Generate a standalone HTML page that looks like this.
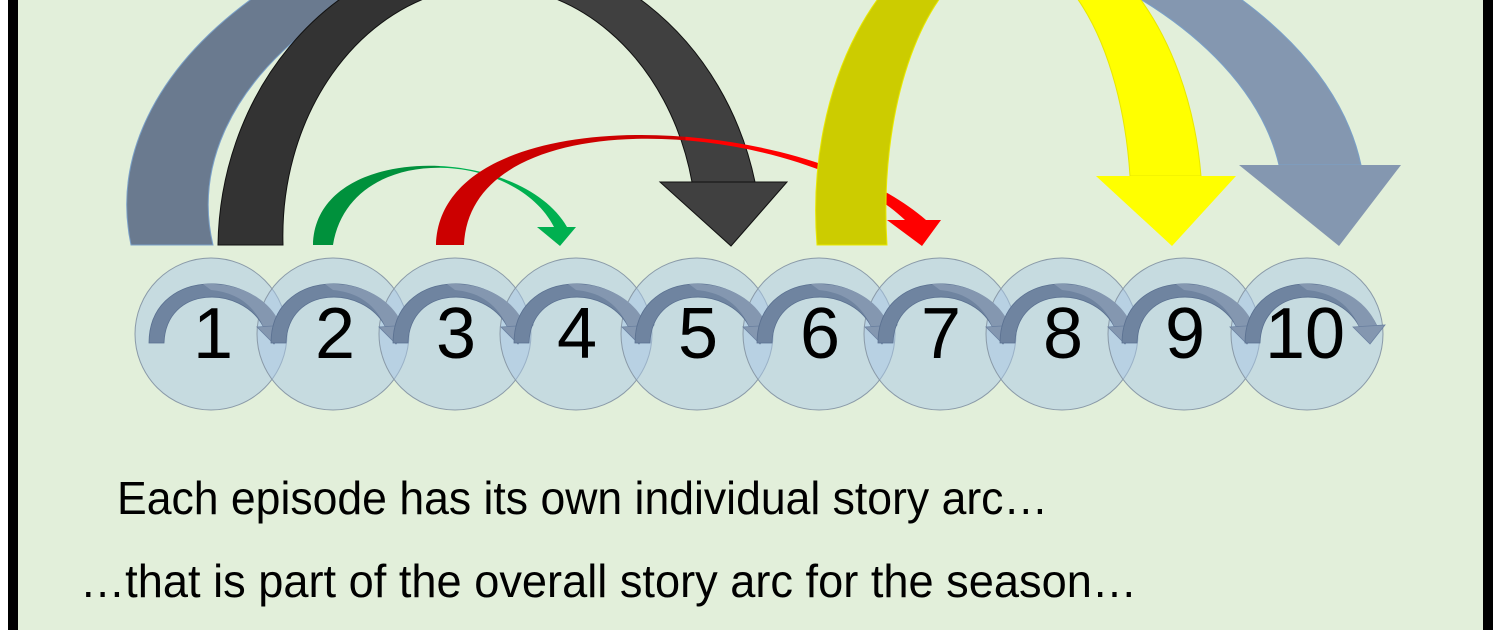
<!DOCTYPE html>
<html><head><meta charset="utf-8"><style>
html,body{margin:0;padding:0;background:#fff;}
svg{display:block;}
</style></head><body>
<svg width="1500" height="630" viewBox="0 0 1500 630" xmlns="http://www.w3.org/2000/svg">
<defs>
<linearGradient id="gSlate" gradientUnits="userSpaceOnUse" x1="0" y1="0" x2="1500" y2="0">
<stop offset="0.497" stop-color="#6a7a8f"/><stop offset="0.497" stop-color="#8497b0"/></linearGradient>
<linearGradient id="gDark" gradientUnits="userSpaceOnUse" x1="0" y1="0" x2="1500" y2="0">
<stop offset="0.327" stop-color="#333333"/><stop offset="0.327" stop-color="#404040"/></linearGradient>
<linearGradient id="gGreen" gradientUnits="userSpaceOnUse" x1="0" y1="0" x2="1500" y2="0">
<stop offset="0.293" stop-color="#00913c"/><stop offset="0.293" stop-color="#00b050"/></linearGradient>
<linearGradient id="gRed" gradientUnits="userSpaceOnUse" x1="0" y1="0" x2="1500" y2="0">
<stop offset="0.457" stop-color="#cc0000"/><stop offset="0.457" stop-color="#ff0000"/></linearGradient>
<linearGradient id="gYel" gradientUnits="userSpaceOnUse" x1="0" y1="0" x2="1500" y2="0">
<stop offset="0.673" stop-color="#cccc00"/><stop offset="0.673" stop-color="#ffff00"/></linearGradient>
<g id="small">
<path d="M-62,343 C-62,270 40,265 70,326 L52,326 C30,285 -45,285 -47,343 Z" fill="#6f84a0" stroke="#5a7090" stroke-width="0.8"/>
<path d="M-8,284 C30,282 60,300 70,326 L52,326 C40,300 20,292 0,290 Z" fill="#8497b0"/>
<polygon points="46,327 78,325 63,344" fill="#8497b0" stroke="#6a80a0" stroke-width="0.8"/>
</g>
</defs>
<rect x="0" y="0" width="1500" height="630" fill="#ffffff"/>
<rect x="18" y="0" width="1465" height="630" fill="#e2efda"/>
<rect x="8" y="0" width="10" height="630" fill="#000"/>
<rect x="1483" y="0" width="10" height="630" fill="#000"/>

<!-- slate big arc -->
<path d="M131,245 A615,340 0 0 1 1361,165 L1279,165 A533,300 0 0 0 213,245 Z" fill="url(#gSlate)" stroke="#7aa0c8" stroke-width="1"/>
<polygon points="1239,165 1401,165 1339,246" fill="#8497b0"/>
<!-- dark arc -->
<path d="M218,245 A272,300 0 0 1 755,182 L692,182 A207,250 0 0 0 283,245 Z" fill="url(#gDark)" stroke="#111" stroke-width="1"/>
<polygon points="660,182 787,182 731,246" fill="#404040" stroke="#111" stroke-width="1"/>
<!-- green -->
<path d="M313,245 C315,140 520,145 567,227 L554,227 C515,150 350,140 333,245 Z" fill="url(#gGreen)"/>
<polygon points="537,227 576,227 560,246" fill="#00b050"/>
<!-- red -->
<path d="M436,245 C440,95 800,110 926,220 L905,220 C800,120 470,95 464,245 Z" fill="url(#gRed)"/>
<polygon points="887,220 941,220 922,246" fill="#ff0000"/>
<!-- olive/yellow -->
<path d="M817,245 A192,286 0 0 1 1201,176 L1130,176 A122,255 0 0 0 887,245 Z" fill="url(#gYel)" stroke="#e8e800" stroke-width="1"/>
<polygon points="1096,176 1236,176 1172,246" fill="#ffff00"/>

<!-- circles -->
<g fill="#a9c8e6" fill-opacity="0.5" stroke="#8a9aa8" stroke-width="1">
<circle cx="211" cy="334" r="76"/><circle cx="333" cy="334" r="76"/><circle cx="455" cy="334" r="76"/>
<circle cx="576" cy="334" r="76"/><circle cx="697" cy="334" r="76"/><circle cx="819" cy="334" r="76"/>
<circle cx="940" cy="334" r="76"/><circle cx="1062" cy="334" r="76"/><circle cx="1184" cy="334" r="76"/>
<circle cx="1307" cy="334" r="76"/>
</g>
<g>
<use href="#small" x="211"/><use href="#small" x="333"/><use href="#small" x="455"/><use href="#small" x="576"/>
<use href="#small" x="697"/><use href="#small" x="819"/><use href="#small" x="940"/><use href="#small" x="1062"/>
<use href="#small" x="1184"/><use href="#small" x="1307"/>
</g>
<g font-family="Liberation Sans, sans-serif" font-size="72" fill="#000" text-anchor="middle">
<text x="213" y="358">1</text><text x="335" y="358">2</text><text x="456" y="358">3</text><text x="577" y="358">4</text>
<text x="698" y="358">5</text><text x="820" y="358">6</text><text x="941" y="358">7</text><text x="1063" y="358">8</text>
<text x="1185" y="358">9</text><text x="1305" y="358">10</text>
</g>
<g font-family="Liberation Sans, sans-serif" font-size="46" fill="#000">
<text x="117" y="514" textLength="931" lengthAdjust="spacingAndGlyphs">Each episode has its own individual story arc…</text>
<text x="80" y="597" textLength="1057" lengthAdjust="spacingAndGlyphs">…that is part of the overall story arc for the season…</text>
</g>
</svg>
</body></html>
